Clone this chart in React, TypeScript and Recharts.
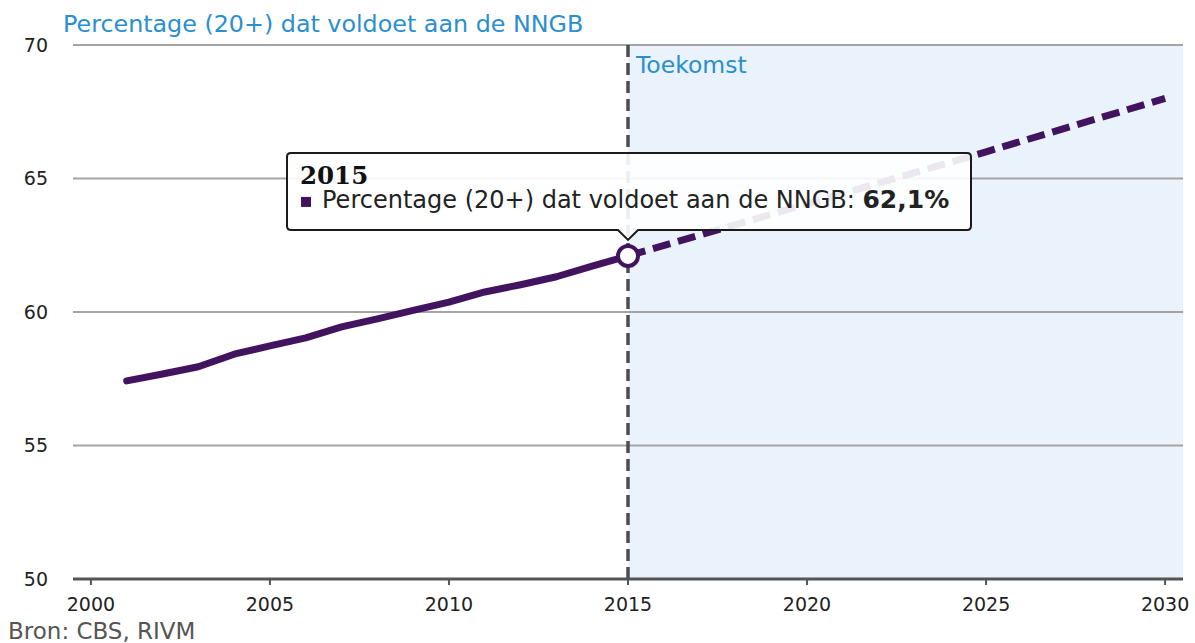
import React from 'react';
import {
  ComposedChart,
  Line,
  XAxis,
  YAxis,
  ReferenceArea,
  ReferenceLine,
  ReferenceDot,
} from 'recharts';

// ---- data ----
const actualYears = [2001, 2002, 2003, 2004, 2005, 2006, 2007, 2008, 2009, 2010, 2011, 2012, 2013, 2014, 2015];
const actualValues = [57.42, 57.68, 57.95, 58.42, 58.73, 59.03, 59.44, 59.74, 60.06, 60.37, 60.75, 61.02, 61.32, 61.72, 62.1];
const projectionYears = [2015, 2020, 2025, 2030];
const projectionValues = [62.1, 64.05, 66.0, 68.0];
const xTicks = [2000, 2005, 2010, 2015, 2020, 2025, 2030];
const yTicks = [50, 55, 60, 65, 70];
const futureStart = 2015;
const highlightYear = 2015;
const highlightValue = 62.1;
const seriesName = 'Percentage (20+) dat voldoet aan de NNGB';
const title = 'Percentage (20+) dat voldoet aan de NNGB';
const futureLabel = 'Toekomst';
const source = 'Bron: CBS, RIVM';

const allYears = Array.from(new Set([...actualYears, ...projectionYears])).sort((a, b) => a - b);
const data = allYears.map((year) => {
  const ai = actualYears.indexOf(year);
  const pi = projectionYears.indexOf(year);
  return {
    year,
    actual: ai >= 0 ? actualValues[ai] : undefined,
    projection: pi >= 0 ? projectionValues[pi] : undefined,
  };
});

const PURPLE = '#42145f';
const BLUE = '#2a8fd0';
const FONT = '"DejaVu Sans", Verdana, sans-serif';

const fmt = (v: number) => v.toFixed(1).replace('.', ',') + '%';

const TooltipShape = (props: any) => {
  const { cx, cy } = props;
  if (cx == null || cy == null) return null;
  const left = cx - 341;
  const top = cy - 103;
  const w = 684;
  const h = 77;
  return (
    <g>
      <path
        d={`M ${left + 4} ${top} H ${left + w - 4} Q ${left + w} ${top} ${left + w} ${top + 4} V ${top + h - 4} Q ${left + w} ${top + h} ${left + w - 4} ${top + h} H ${cx + 10} L ${cx} ${top + h + 10} L ${cx - 10} ${top + h} H ${left + 4} Q ${left} ${top + h} ${left} ${top + h - 4} V ${top + 4} Q ${left} ${top} ${left + 4} ${top} Z`}
        fill="#ffffff"
        fillOpacity={0.9}
        stroke="#1a1a1a"
        strokeWidth={2}
      />
      <text x={left + 13} y={top + 31} fontFamily='"DejaVu Serif", Georgia, serif' fontWeight="bold" fontSize={24.5} fill="#111">
        {String(highlightYear)}
      </text>
      <rect x={left + 14} y={top + 44} width={10} height={10} fill={PURPLE} />
      <text x={left + 35} y={top + 55} fontFamily={FONT} fontSize={24} fill="#222">
        {seriesName + ': '}
        <tspan fontWeight="bold" fontSize={25}>{fmt(highlightValue)}</tspan>
      </text>
    </g>
  );
};

export default function App() {
  return (
    <div style={{ position: 'absolute', left: 0, top: 0, width: 1195, height: 643, background: '#fff' }}>
      <div
        style={{
          position: 'absolute',
          left: 63,
          top: 13,
          fontFamily: FONT,
          fontSize: 23.8,
          lineHeight: '23.8px',
          color: BLUE,
          whiteSpace: 'nowrap',
        }}
      >
        {title}
      </div>
      <div
        style={{
          position: 'absolute',
          left: 8,
          top: 620,
          fontFamily: FONT,
          fontSize: 23,
          lineHeight: '23px',
          color: '#555',
          whiteSpace: 'nowrap',
        }}
      >
        {source}
      </div>
      <ComposedChart
        width={1195}
        height={643}
        data={data}
        margin={{ top: 45, right: 12, bottom: 34, left: 0 }}
      >
        <ReferenceArea x1={futureStart} x2={2030.5} y1={50} y2={70} fill="#eaf2fb" fillOpacity={1} stroke="none" />
        {yTicks
          .filter((t) => t > yTicks[0])
          .map((t) => (
            <ReferenceLine key={t} y={t} stroke="#a3a3a3" strokeWidth={2} />
          ))}
        <XAxis
          dataKey="year"
          type="number"
          domain={[1999.5, 2030.5]}
          ticks={xTicks}
          allowDataOverflow
          axisLine={{ stroke: '#555', strokeWidth: 3 }}
          tickLine={{ stroke: '#555', strokeWidth: 2 }}
          tickSize={6}
          tickMargin={13}
          height={30}
          tick={{ fontFamily: FONT, fontSize: 19, fill: '#222' }}
        />
        <YAxis
          type="number"
          domain={[50, 70]}
          ticks={yTicks}
          axisLine={false}
          tickLine={false}
          tickSize={0}
          tickMargin={25}
          width={73}
          tick={{ fontFamily: FONT, fontSize: 19, fill: '#222' }}
        />
        <ReferenceLine
          x={futureStart}
          stroke="#4d4d4d"
          strokeWidth={3.5}
          strokeDasharray="12 6"
          label={(p: any) => {
            const vb = p.viewBox || {};
            return (
              <text x={(vb.x ?? 0) + 8} y={(vb.y ?? 0) + 28} fontFamily={FONT} fontSize={23.5} fill={BLUE}>
                {futureLabel}
              </text>
            );
          }}
        />
        <Line
          dataKey="actual"
          stroke={PURPLE}
          strokeWidth={7}
          strokeLinecap="round"
          strokeLinejoin="round"
          dot={false}
          activeDot={false}
          isAnimationActive={false}
          type="linear"
        />
        <Line
          dataKey="projection"
          stroke={PURPLE}
          strokeWidth={7}
          strokeDasharray="18 8"
          dot={false}
          activeDot={false}
          isAnimationActive={false}
          type="linear"
        />
        <ReferenceDot x={highlightYear} y={highlightValue} r={10} fill="#fff" stroke={PURPLE} strokeWidth={4} />
        <ReferenceDot x={highlightYear} y={highlightValue} r={0} shape={TooltipShape} />
      </ComposedChart>
    </div>
  );
}
